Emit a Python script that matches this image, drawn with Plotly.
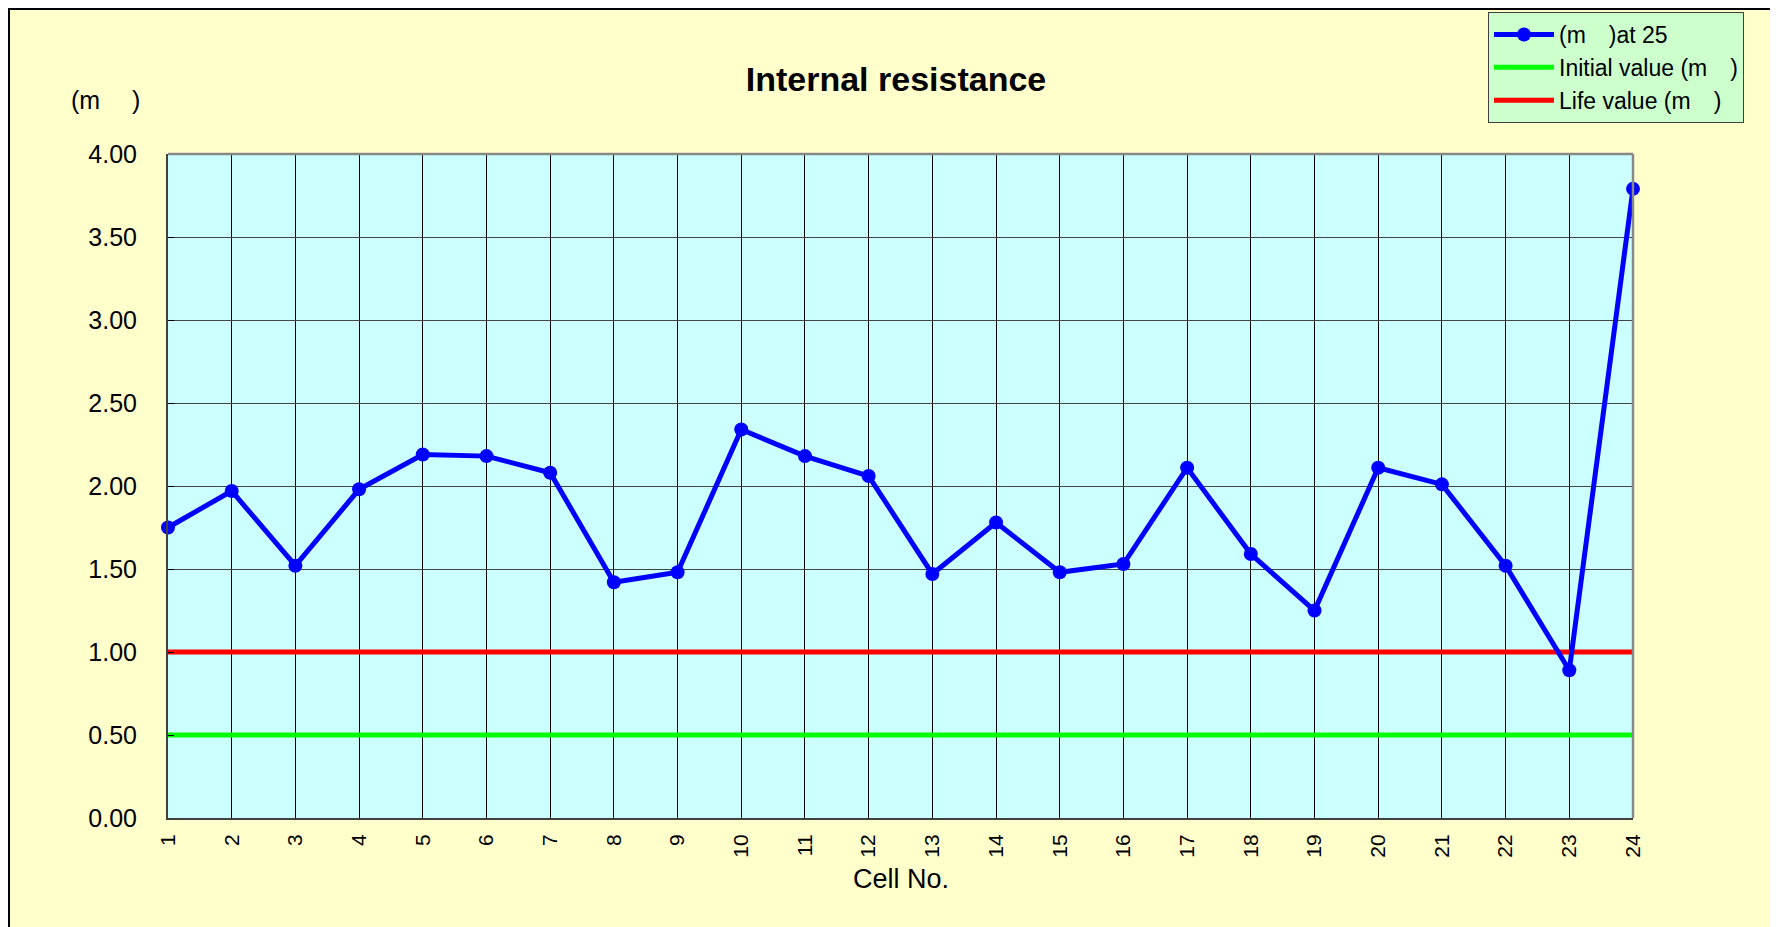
import plotly.graph_objects as go

# ---- data ----
cells = list(range(1, 25))
tick_labels = [str(c) for c in cells]
resistance = [1.75, 1.97, 1.52, 1.98, 2.19, 2.18, 2.08, 1.42, 1.48, 2.34, 2.18, 2.06,
              1.47, 1.78, 1.48, 1.53, 2.11, 1.59, 1.25, 2.11, 2.01, 1.52, 0.89, 3.79]
initial_value = 0.50
life_value = 1.00
y_ticks = [0.0, 0.5, 1.0, 1.5, 2.0, 2.5, 3.0, 3.5, 4.0]

series_name = "(m\u2003)at 25"
initial_name = "Initial value (m\u2003)"
life_name = "Life value (m\u2003)"
title_text = "Internal resistance"
y_unit = "(m\u2003 )"
x_title = "Cell No."

FONT = "Liberation Sans, Arial, sans-serif"

W, H = 1778, 927
# page has an 8px body margin; positions below are in figure pixels
L, R, T, B = 160, 1778 - 1625, 146, 927 - 810

pw = W - L - R
ph = H - T - B
def px(xpix):
    return (xpix - L) / pw
def py(ypix):
    return (H - B - ypix) / ph

fig = go.Figure()
fig.add_trace(go.Scatter(x=cells, y=[initial_value] * len(cells), mode="lines",
                         name=initial_name, legendrank=2,
                         line=dict(color="#00FF00", width=5)))
fig.add_trace(go.Scatter(x=cells, y=[life_value] * len(cells), mode="lines",
                         name=life_name, legendrank=3,
                         line=dict(color="#FF0000", width=5)))
fig.add_trace(go.Scatter(x=cells, y=resistance, mode="lines+markers",
                         name=series_name, legendrank=1,
                         line=dict(color="#0000FF", width=5),
                         marker=dict(color="#0000FF", size=14), cliponaxis=False))

shapes = [
    dict(type="line", xref="paper", yref="paper", x0=px(0), x1=px(W + 5), y0=py(1), y1=py(1),
         line=dict(color="black", width=2)),
    dict(type="line", xref="paper", yref="paper", x0=px(1), x1=px(1), y0=py(0), y1=py(H + 5),
         line=dict(color="black", width=2)),
    dict(type="line", xref="paper", yref="paper", x0=0, x1=1, y0=1, y1=1,
         line=dict(color="#888888", width=2.5)),
    dict(type="line", xref="paper", yref="paper", x0=1, x1=1, y0=0, y1=1,
         line=dict(color="#888888", width=2.5)),
]

fig.update_layout(
    width=W, height=H,
    margin=dict(l=L, r=R, t=T, b=B, pad=0, autoexpand=False),
    paper_bgcolor="#FFFFCC",
    plot_bgcolor="#CCFFFF",
    font=dict(family=FONT, color="black", size=23),
    title=dict(text=title_text, x=888 / W, xanchor="center", y=1 - 71 / H, yanchor="middle",
               font=dict(family=FONT, size=34, color="black", weight="bold")),
    showlegend=True,
    legend=dict(x=px(1480), xanchor="left", y=py(4), yanchor="top",
                bgcolor="#CCFFCC", bordercolor="#404040", borderwidth=1,
                font=dict(family=FONT, size=23, color="black"),
                traceorder="normal", tracegroupgap=0, itemwidth=60),
    shapes=shapes,
    annotations=[
        dict(text=y_unit, xref="paper", yref="paper", x=px(97), y=py(92),
             xanchor="center", yanchor="middle", showarrow=False,
             font=dict(family=FONT, size=25, color="black")),
        dict(text=x_title, xref="paper", yref="paper", x=px(893), y=py(871),
             xanchor="center", yanchor="middle", showarrow=False,
             font=dict(family=FONT, size=27, color="black")),
    ],
)

fig.update_xaxes(
    range=[1, 24], tickmode="array", tickvals=cells, ticktext=tick_labels,
    tickangle=-90, tickfont=dict(family=FONT, size=21), ticklabelstandoff=6,
    showgrid=True, gridcolor="black", gridwidth=1,
    showline=True, linecolor="#404040", linewidth=2, mirror=False,
    ticks="", zeroline=False,
)
fig.update_yaxes(
    range=[0, 4], tickmode="array", tickvals=y_ticks,
    ticktext=[f"{v:.2f}" for v in y_ticks], tickfont=dict(family=FONT, size=25),
    showgrid=True, gridcolor="#444444", gridwidth=1.2,
    showline=True, linecolor="#404040", linewidth=2, mirror=False,
    ticks="inside", ticklen=6, tickcolor="black", zeroline=False,
    ticklabelstandoff=24,
)

fig.write_html("out.html")
